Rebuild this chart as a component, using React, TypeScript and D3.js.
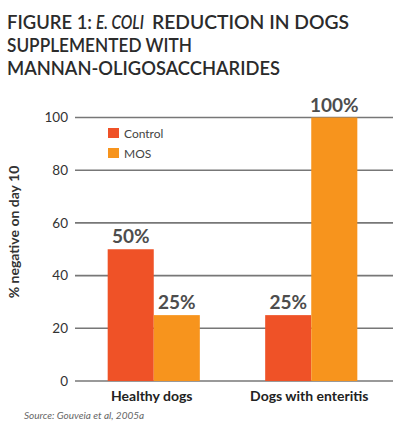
import * as d3 from 'd3';

const categories = ['Healthy dogs', 'Dogs with enteritis'];
const seriesNames = ['Control', 'MOS'];
const controlValues = [50, 25];
const mosValues = [25, 100];
const yTicks = [0, 20, 40, 60, 80, 100];

const COLORS = ['#ef5227', '#f7941d'];
const W = 400;
const H = 427;
const FONT = 'Lato, "Open Sans", sans-serif';

export default function App() {
  const x0 = d3.scaleBand<string>().domain(categories).range([75, 390]).paddingInner(0.415).paddingOuter(0.2075);
  const x1 = d3.scaleBand<string>().domain(seriesNames).range([0, x0.bandwidth()]);
  const y = d3.scaleLinear().domain([0, 100]).range([381, 117.5]);

  const series = [controlValues, mosValues];

  return (
    <svg width={W} height={H} style={{ position: 'absolute', left: 0, top: 0, background: '#fff' }} fontFamily={FONT}>
      {/* Title, first line split so the italic part sits on its own */}
      <g fill="#2b2b2b" fontSize={20} fontWeight={600}>
        <text x={7} y={29} textLength={85} lengthAdjust="spacingAndGlyphs">FIGURE 1:</text>
        <text x={96} y={29} textLength={48} lengthAdjust="spacingAndGlyphs" fontStyle="italic">E. COLI</text>
        <text x={152} y={29} textLength={197} lengthAdjust="spacingAndGlyphs">REDUCTION IN DOGS</text>
        <text x={7} y={52} textLength={185} lengthAdjust="spacingAndGlyphs">SUPPLEMENTED WITH</text>
        <text x={7} y={75} textLength={273} lengthAdjust="spacingAndGlyphs">MANNAN-OLIGOSACCHARIDES</text>
      </g>

      {/* Grid + y ticks */}
      {yTicks.map(t => (
        <g key={t}>
          <line x1={75} x2={393} y1={y(t)} y2={y(t)} stroke="#777" strokeWidth={1.6} />
          <text x={68} y={y(t)} dy="0.35em" textAnchor="end" fontSize={13.5} fill="#333">{t}</text>
        </g>
      ))}

      {/* Bars */}
      {categories.map((c, i) => (
        <g key={c} transform={`translate(${x0(c)},0)`}>
          {seriesNames.map((s, j) => {
            const v = series[j][i];
            const bx = x1(s)!;
            return (
              <g key={s}>
                <rect x={bx} y={y(v)} width={x1.bandwidth()} height={y(0) - y(v)} fill={COLORS[j]} />
                <text x={bx + x1.bandwidth() / 2} y={y(v) - 6} textAnchor="middle" fontSize={19} fontWeight={700} fill="#4d4d4d">
                  {v}%
                </text>
              </g>
            );
          })}
          <text x={x0.bandwidth() / 2 - 2} y={401} textAnchor="middle" fontSize={14} fontWeight={700} fill="#222">{c}</text>
        </g>
      ))}

      {/* Legend */}
      {seriesNames.map((s, j) => (
        <g key={s} transform={`translate(108,${128 + j * 20})`}>
          <rect width={11} height={10} fill={COLORS[j]} />
          <text x={16} y={9.5} fontSize={12} fill="#444">{s}</text>
        </g>
      ))}

      {/* Y label */}
      <text transform="translate(19,232) rotate(-90)" textAnchor="middle" fontSize={14} fontWeight={700} fill="#333">
        % negative on day 10
      </text>

      {/* Source */}
      <text x={24} y={419} fontSize={10} fontStyle="italic" fill="#666">Source: Gouveia et al, 2005a</text>
    </svg>
  );
}
